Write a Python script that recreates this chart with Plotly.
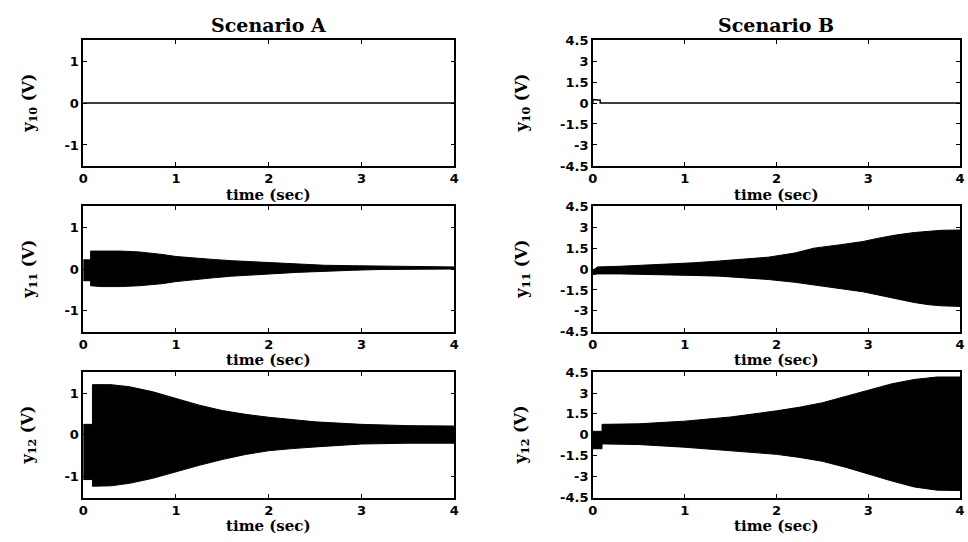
import plotly.graph_objects as go

# ---- signal envelopes (time in s, voltage in V) ----
# Scenario A
t_y10_a = [0, 4]
y10_a = [0, 0]

t_y11_a = [0, 0.08, 0.08, 0.2, 0.4, 0.6, 0.7, 0.85, 1.0, 1.2, 1.4, 1.6, 1.8, 2.0,
           2.3, 2.6, 2.9, 3.2, 3.5, 3.8, 4.0]
y11_a_hi = [0.22, 0.22, 0.43, 0.43, 0.43, 0.41, 0.39, 0.35, 0.30, 0.26, 0.23, 0.20,
            0.18, 0.15, 0.12, 0.09, 0.08, 0.07, 0.06, 0.05, 0.05]
y11_a_lo = [-0.28, -0.28, -0.40, -0.42, -0.42, -0.40, -0.38, -0.35, -0.30, -0.25,
            -0.21, -0.17, -0.14, -0.12, -0.08, -0.05, -0.03, -0.01, 0.0, 0.0, 0.0]

t_y12_a = [0, 0.1, 0.1, 0.3, 0.5, 0.75, 1.0, 1.25, 1.5, 1.75, 2.0, 2.25, 2.5, 2.75,
           3.0, 3.5, 4.0]
y12_a_hi = [0.25, 0.25, 1.20, 1.20, 1.15, 1.03, 0.87, 0.71, 0.58, 0.49, 0.42, 0.36,
            0.31, 0.28, 0.25, 0.22, 0.21]
y12_a_lo = [-1.07, -1.07, -1.23, -1.22, -1.16, -1.04, -0.89, -0.73, -0.59, -0.47,
            -0.38, -0.33, -0.29, -0.25, -0.22, -0.20, -0.20]

# Scenario B
t_y10_b = [0, 0, 0.08, 0.08, 4]
y10_b = [0, 0.25, 0.2, 0, 0]

t_y11_b = [0, 0.05, 0.3, 0.6, 0.84, 1.1, 1.38, 1.65, 1.91, 2.2, 2.41, 2.7, 2.94,
           3.1, 3.3, 3.5, 3.66, 3.8, 4.0]
y11_b_hi = [-0.1, 0.15, 0.2, 0.28, 0.35, 0.45, 0.58, 0.70, 0.85, 1.15, 1.50, 1.75,
            1.97, 2.20, 2.44, 2.62, 2.72, 2.78, 2.80]
y11_b_lo = [-0.40, -0.35, -0.35, -0.38, -0.42, -0.46, -0.51, -0.62, -0.75, -0.95,
            -1.17, -1.40, -1.63, -1.85, -2.10, -2.40, -2.56, -2.64, -2.68]

t_y12_b = [0, 0.1, 0.1, 0.5, 1.0, 1.5, 2.0, 2.25, 2.5, 2.75, 3.0, 3.25, 3.5, 3.75, 4.0]
y12_b_hi = [0.25, 0.25, 0.75, 0.79, 0.98, 1.28, 1.72, 1.98, 2.30, 2.75, 3.25, 3.65,
            3.97, 4.15, 4.15]
y12_b_lo = [-1.00, -1.00, -0.65, -0.70, -0.89, -1.12, -1.40, -1.62, -1.90, -2.32,
            -2.80, -3.30, -3.74, -3.97, -4.00]

# ---- axis ticks ----
x_ticks = [0, 1, 2, 3, 4]
ya_ticks = [-1, 0, 1]
ya_text = ["-1", "0", "1"]
yb_ticks = [-4.5, -3, -1.5, 0, 1.5, 3, 4.5]
yb_text = ["-4.5", "-3", "-1.5", "0", "1.5", "3", "4.5"]

col_titles = ["Scenario A", "Scenario B"]
row_labels = ["y<sub>10</sub> (V)", "y<sub>11</sub> (V)", "y<sub>12</sub> (V)"]
x_label = "time (sec)"

W, H = 968, 542
# panel boxes in pixels: (left, right) per column, (top, bottom) per row
col_px = [(79, 454), (594, 965)]
row_px = [(34, 163.5), (205, 334), (375.5, 504.5)]

fig = go.Figure()

def ax_name(k, kind):
    return kind if k == 1 else f"{kind}{k}"

def add_line(k, t, y):
    fig.add_trace(go.Scatter(x=t, y=y, mode="lines",
                             line=dict(color="black", width=1.5),
                             xaxis=ax_name(k, "x"), yaxis=ax_name(k, "y"),
                             showlegend=False, hoverinfo="skip"))

def add_band(k, t, hi, lo):
    fig.add_trace(go.Scatter(x=list(t) + list(t)[::-1], y=list(hi) + list(lo)[::-1],
                             mode="lines", fill="toself", fillcolor="black",
                             line=dict(color="black", width=1),
                             xaxis=ax_name(k, "x"), yaxis=ax_name(k, "y"),
                             showlegend=False, hoverinfo="skip"))

add_line(1, t_y10_a, y10_a)
add_line(2, t_y10_b, y10_b)
add_band(3, t_y11_a, y11_a_hi, y11_a_lo)
add_band(4, t_y11_b, y11_b_hi, y11_b_lo)
add_band(5, t_y12_a, y12_a_hi, y12_a_lo)
add_band(6, t_y12_b, y12_b_hi, y12_b_lo)

tick_font = dict(family="DejaVu Sans", size=13, color="black", weight="bold")
label_font = dict(family="DejaVu Serif", size=15, color="black", weight="bold")
ylab_font = dict(family="DejaVu Serif", size=16, color="black", weight="bold")
title_font = dict(family="DejaVu Serif", size=19, color="black", weight="bold")

layout = dict(width=W, height=H, margin=dict(l=0, r=0, t=0, b=0),
              paper_bgcolor="white", plot_bgcolor="white")
annotations = []

for r in range(3):
    for c in range(2):
        k = r * 2 + c + 1
        x0, x1 = col_px[c]
        y0, y1 = row_px[r]
        xd = [x0 / W, x1 / W]
        yd = [1 - y1 / H, 1 - y0 / H]
        common = dict(showline=True, linecolor="black", linewidth=1.5, mirror="ticks",
                      ticks="inside", ticklen=4, tickwidth=1, tickcolor="black",
                      showgrid=False, zeroline=False, tickfont=tick_font)
        layout[f"xaxis{'' if k == 1 else k}"] = dict(
            domain=xd, anchor=ax_name(k, "y"), range=[0, 4], tickvals=x_ticks,
            ticktext=[str(v) for v in x_ticks], **common)
        if c == 0:
            yt = dict(range=[-1.5, 1.5], tickvals=ya_ticks, ticktext=ya_text)
        else:
            yt = dict(range=[-4.5, 4.5], tickvals=yb_ticks, ticktext=yb_text)
        layout[f"yaxis{'' if k == 1 else k}"] = dict(
            domain=yd, anchor=ax_name(k, "x"), **yt, **common)

        # x-axis label under each panel
        annotations.append(dict(text=x_label, xref="paper", yref="paper",
                                x=(x0 + x1) / 2 / W, y=1 - (y1 + 29.5) / H,
                                xanchor="center", yanchor="middle",
                                showarrow=False, font=label_font))
        # rotated y-axis label
        ylab_x = 24 if c == 0 else 522
        annotations.append(dict(text=row_labels[r], xref="paper", yref="paper",
                                x=ylab_x / W, y=1 - (y0 + y1) / 2 / H,
                                xanchor="center", yanchor="middle", textangle=-90,
                                showarrow=False, font=ylab_font))

for c in range(2):
    x0, x1 = col_px[c]
    annotations.append(dict(text=col_titles[c], xref="paper", yref="paper",
                            x=(x0 + x1) / 2 / W, y=1 - 18 / H,
                            xanchor="center", yanchor="middle",
                            showarrow=False, font=title_font))

layout["annotations"] = annotations
fig.update_layout(**layout)
fig.write_html("out.html")
